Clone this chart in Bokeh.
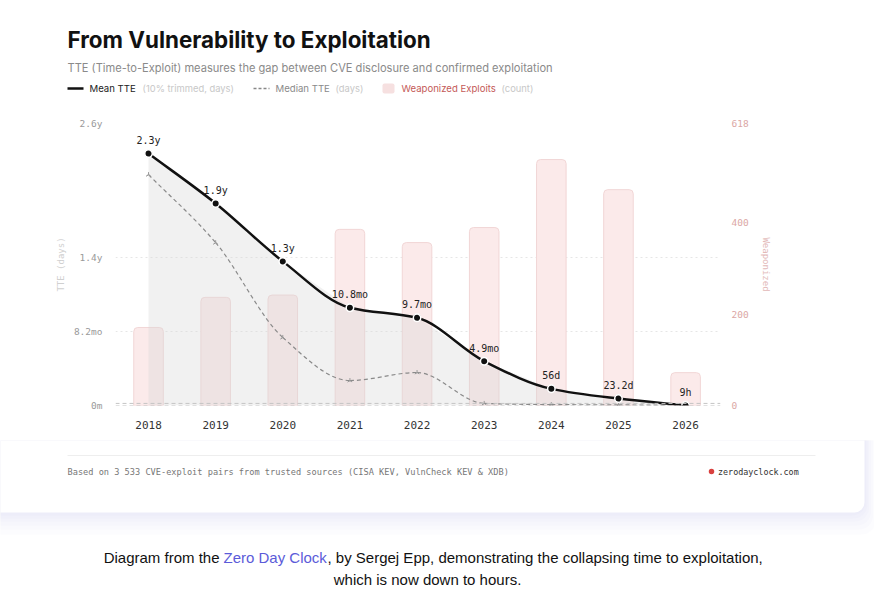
import numpy as np
from bokeh.plotting import figure
from bokeh.layouts import column
from bokeh.models import Range1d, LinearAxis, FixedTicker, Span
from bokeh.core.properties import value
from bokeh.embed import file_html
from bokeh.resources import INLINE

# ---- data -------------------------------------------------------------
years = [2018, 2019, 2020, 2021, 2022, 2023, 2024, 2025, 2026]
mean_tte_days = [848, 680, 485, 329, 295, 149, 56, 23.2, 0.375]
mean_tte_labels = ["2.3y", "1.9y", "1.3y", "10.8mo", "9.7mo", "4.9mo", "56d", "23.2d", "9h"]
median_tte_days = [777, 548, 229, 84, 111, 7, 3, 2, 0.5]
weaponized_counts = [171, 237, 242, 386, 357, 390, 539, 473, 72]

tte_ticks = [0, 249, 498, 949]
tte_tick_labels = ["0m", "8.2mo", "1.4y", "2.6y"]
count_ticks = [0, 200, 400, 618]
reference_days = [0, 7]          # baseline and one-week guide

MONO = value("DejaVu Sans Mono")
SANS = value("Inter")


def monotone_bezier(xs, ys):
    """Bezier segments of a monotone cubic curve through the points."""
    xs = np.asarray(xs, float)
    ys = np.asarray(ys, float)
    h = np.diff(xs)
    d = np.diff(ys) / h
    m = np.zeros(len(xs))
    m[0], m[-1] = d[0], d[-1]
    for i in range(1, len(xs) - 1):
        if d[i - 1] * d[i] <= 0:
            m[i] = 0.0
        else:
            w1 = 2 * h[i] + h[i - 1]
            w2 = h[i] + 2 * h[i - 1]
            m[i] = (w1 + w2) / (w1 / d[i - 1] + w2 / d[i])
    return dict(
        x0=xs[:-1], y0=ys[:-1], x1=xs[1:], y1=ys[1:],
        cx0=xs[:-1] + h / 3, cy0=ys[:-1] + m[:-1] * h / 3,
        cx1=xs[1:] - h / 3, cy1=ys[1:] - m[1:] * h / 3,
    )


def blank(height, y_top, y_bottom):
    # a full-bleed canvas whose ranges are measured in pixels from the top-left
    f = figure(frame_width=874, frame_height=height, x_range=Range1d(0, 874),
               y_range=Range1d(y_bottom, y_top), x_axis_type=None, y_axis_type=None,
               toolbar_location=None, output_backend="svg", min_border=0,
               outline_line_color=None, background_fill_color="white",
               border_fill_color="white", frame_align=False)
    return f


def words(fig, x, y, txt, color, size, font=SANS, style="normal", align="left"):
    fig.text(x=[x], y=[y], text=[txt], text_font=font, text_font_style=style,
             text_font_size=size, text_color=color, text_baseline="middle",
             text_align=align)


# ---- header: title, subtitle, legend ---------------------------------
h = blank(110, 0, 110)
words(h, 67, 39, "From Vulnerability to Exploitation", "#111111", "22.4px", style="bold")
words(h, 67, 67, "TTE (Time-to-Exploit) measures the gap between CVE disclosure and confirmed exploitation",
      "#8a8a8a", "11.1px")

ly = 88
h.line(x=[67, 83], y=[ly, ly], line_color="#111111", line_width=2.5)
words(h, 89, ly, "Mean TTE", "#222222", "9.6px")
words(h, 142, ly, "(10% trimmed, days)", "#c8c8c8", "9.4px")
h.line(x=[253, 269], y=[ly, ly], line_color="#888888", line_width=1.3, line_dash="3 2")
words(h, 275, ly, "Median TTE", "#8a8a8a", "9.6px")
words(h, 335, ly, "(days)", "#c8c8c8", "9.4px")
h.quad(left=[382], right=[394], top=[83], bottom=[93], fill_color="#f6e0e0",
       line_color=None, border_radius=2)
words(h, 401, ly, "Weaponized Exploits", "#c45a58", "9.6px")
words(h, 501, ly, "(count)", "#c8c8c8", "9.4px")

# ---- main chart -------------------------------------------------------
p = figure(frame_width=605, frame_height=282, x_range=Range1d(2017.508, 2026.52),
           y_range=Range1d(0, 949), output_backend="svg", toolbar_location=None,
           min_border_left=115, min_border_right=154, min_border_top=13,
           min_border_bottom=35, outline_line_color=None,
           background_fill_color="white", border_fill_color="white", frame_align=False)
p.extra_y_ranges = {"count": Range1d(0, 618)}

p.vbar(x=years, top=weaponized_counts, bottom=0, width=0.44, y_range_name="count",
       fill_color="#fbeaea", line_color="#f1d6d6", line_width=1,
       border_radius=(4, 4, 0, 0))

p.varea(x=years, y1=[0] * len(years), y2=mean_tte_days, fill_color="#d6d6d6", fill_alpha=0.35)

for loc in reference_days:
    p.add_layout(Span(location=loc, dimension="width", line_color="#c4c4c4",
                      line_dash="4 3", line_width=1))

p.bezier(source=monotone_bezier(years, median_tte_days), x0="x0", y0="y0", x1="x1", y1="y1",
         cx0="cx0", cy0="cy0", cx1="cx1", cy1="cy1", line_color="#8a8a8a",
         line_width=1.2, line_dash="4 3")
p.scatter(x=years, y=median_tte_days, marker="y", angle=np.pi, size=5,
          line_color="#9a9a9a", line_width=1)
p.bezier(source=monotone_bezier(years, mean_tte_days), x0="x0", y0="y0", x1="x1", y1="y1",
         cx0="cx0", cy0="cy0", cx1="cx1", cy1="cy1", line_color="#111111",
         line_width=2.5)
p.scatter(x=years, y=mean_tte_days, size=7.5, fill_color="#111111",
          line_color="white", line_width=1.5)
p.text(x=years, y=mean_tte_days, text=mean_tte_labels, y_offset=-13,
       text_align="center", text_baseline="middle", text_font=MONO,
       text_font_size="10px", text_color="#222222")

# axes
p.xaxis.ticker = FixedTicker(ticks=years)
p.xaxis.axis_line_color = None
p.xaxis.major_tick_line_color = None
p.xaxis.minor_tick_line_color = None
p.xaxis.major_label_standoff = 9
p.xaxis.major_label_text_font = "DejaVu Sans Mono"
p.xaxis.major_label_text_font_size = "11px"
p.xaxis.major_label_text_color = "#333333"

p.yaxis.ticker = FixedTicker(ticks=tte_ticks)
p.yaxis.major_label_overrides = dict(zip(tte_ticks, tte_tick_labels))
p.yaxis.axis_line_color = None
p.yaxis.major_tick_line_color = None
p.yaxis.minor_tick_line_color = None
p.yaxis.major_label_standoff = 7
p.yaxis.major_label_text_font = "DejaVu Sans Mono"
p.yaxis.major_label_text_font_size = "9.5px"
p.yaxis.major_label_text_color = "#9a9a9a"
p.yaxis.axis_label = "TTE (days)"
p.yaxis.axis_label_standoff = 5
p.yaxis.axis_label_text_font = "DejaVu Sans Mono"
p.yaxis.axis_label_text_font_size = "9px"
p.yaxis.axis_label_text_font_style = "normal"
p.yaxis.axis_label_text_color = "#d0d0d0"

count_axis = LinearAxis(y_range_name="count", ticker=FixedTicker(ticks=count_ticks),
                        axis_label="Weaponized")
count_axis.axis_line_color = None
count_axis.major_tick_line_color = None
count_axis.minor_tick_line_color = None
count_axis.major_label_standoff = 5
count_axis.major_label_text_font = "DejaVu Sans Mono"
count_axis.major_label_text_font_size = "9.5px"
count_axis.major_label_text_color = "#dba7a5"
count_axis.axis_label_standoff = 9
count_axis.axis_label_text_font = "DejaVu Sans Mono"
count_axis.axis_label_text_font_size = "9px"
count_axis.axis_label_text_font_style = "normal"
count_axis.axis_label_text_color = "#e2b9b8"
p.add_layout(count_axis, "right")

p.xgrid.visible = False
p.ygrid.ticker = FixedTicker(ticks=tte_ticks[1:])
p.ygrid.grid_line_color = "#e6e6e6"
p.ygrid.grid_line_dash = "2 3"

# ---- footer: source note, card edge, caption --------------------------
f = blank(152, 440, 592)
for grow in (22, 17, 13, 9, 6, 3):
    f.quad(left=[-30], right=[864 + grow * 0.5], top=[400], bottom=[512 + grow],
           fill_color="#c4c4ec", fill_alpha=0.055, line_color=None, border_radius=14)
f.quad(left=[-30], right=[864], top=[400], bottom=[512], fill_color="white",
       line_color=None, border_radius=10)
f.line(x=[67, 815], y=[455, 455], line_color="#eeeeee", line_width=1)
f.text(x=[67], y=[471], text=["Based on 3 533 CVE-exploit pairs from trusted sources (CISA KEV, VulnCheck KEV & XDB)"],
       text_font=MONO, text_font_size="8.65px", text_color="#777777", text_baseline="middle")
f.scatter(x=[711], y=[471], size=5.5, fill_color="#d9413f", line_color=None)
f.text(x=[717.5], y=[471], text=["zerodayclock.com"], text_font=MONO, text_font_size="8.4px",
       text_color="#333333", text_baseline="middle")

CAP = value("Liberation Sans")
words(f, 219, 557, "Diagram from the", "#111111", "15px", font=CAP, align="right")
words(f, 223, 557, "Zero Day Clock", "#5b5bd9", "15px", font=CAP)
words(f, 327, 557, ", by Sergej Epp, demonstrating the collapsing time to exploitation,",
      "#111111", "15px", font=CAP)
words(f, 427, 579, "which is now down to hours.", "#111111", "15px", font=CAP, align="center")

layout = column(h, p, f, spacing=0)
open("out.html", "w").write(file_html(layout, INLINE))
